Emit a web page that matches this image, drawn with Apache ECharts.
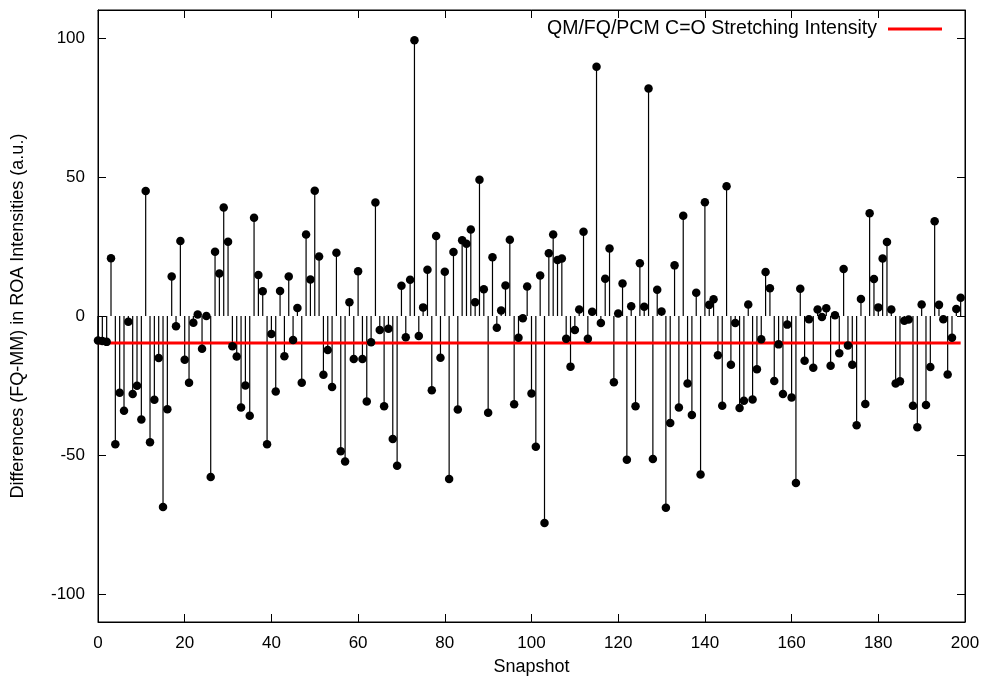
<!DOCTYPE html>
<html>
<head>
<meta charset="utf-8">
<script src="https://cdn.jsdelivr.net/npm/echarts@6/dist/echarts.min.js"></script>
<style>html,body{margin:0;padding:0;background:#fff}#c{width:985px;height:681px}</style>
</head>
<body>
<div id="c"></div>
<script>
// Differences (FQ-MM) for snapshots 0..199
const differences = [
 -8.8, -9.0, -9.3, 20.8, -46.1, -27.6, -34.1, -2.1, -28.0, -25.1,
 -37.2, 44.9, -45.4, -30.1, -15.1, -68.7, -33.5, 14.2, -3.7, 27.0,
 -15.7, -24.0, -2.4, 0.5, -11.8, 0.0, -57.9, 23.1, 15.3, 39.0,
 26.7, -10.9, -14.6, -32.9, -25.0, -35.9, 35.3, 14.7, 8.9, -46.1,
 -6.5, -27.1, 9.0, -14.5, 14.2, -8.6, 2.9, -24.0, 29.3, 13.1,
 45.0, 21.4, -21.1, -12.2, -25.5, 22.7, -48.6, -52.3, 4.9, -15.5,
 16.1, -15.5, -30.7, -9.4, 40.8, -5.0, -32.4, -4.6, -44.2, -53.8,
 10.9, -7.6, 13.0, 99.1, -7.2, 3.1, 16.6, -26.7, 28.8, -15.0,
 15.9, -58.6, 23.0, -33.6, 27.2, 26.0, 31.1, 4.9, 49.0, 9.6,
 -34.8, 21.1, -4.2, 2.0, 11.0, 27.4, -31.7, -7.8, -0.8, 10.6,
 -27.9, -47.0, 14.6, -74.4, 22.6, 29.3, 20.1, 20.7, -8.2, -18.2,
 -5.0, 2.3, 30.3, -8.2, 1.5, 89.6, -2.5, 13.4, 24.3, -23.8,
 0.9, 11.7, -51.7, 3.5, -32.4, 19.0, 3.3, 81.8, -51.4, 9.4,
 1.6, -68.9, -38.5, 18.2, -32.9, 36.0, -24.3, -35.6, 8.4, -57.0,
 40.9, 4.0, 6.0, -14.1, -32.3, 46.6, -17.5, -2.5, -33.1, -30.5,
 4.1, -30.0, -19.1, -8.4, 15.8, 10.0, -23.4, -10.2, -28.0, -3.1,
 -29.3, -60.0, 9.8, -16.1, -1.2, -18.6, 2.3, -0.4, 2.8, -17.9,
 0.3, -13.4, 16.9, -10.6, -17.5, -39.3, 6.1, -31.6, 36.9, 13.3,
 3.1, 20.7, 26.6, 2.3, -24.3, -23.5, -1.7, -1.3, -32.3, -40.0,
 4.1, -32.0, -18.3, 34.1, 4.0, -1.2, -21.0, -7.8, 2.5, 6.6
];
const stretchingIntensity = -9.7;
const stretchRange = [0, 199];
const yTicks = [-100, -50, 0, 50, 100];
const legendName = 'QM/FQ/PCM C=O Stretching Intensity';

const points = differences.map((v, i) => [i, v]);
const font = 'Liberation Sans, Arial, Helvetica, sans-serif';
const fs = 18;
const tfs = 17;

const chart = echarts.init(document.getElementById('c'), null, {renderer: 'canvas'});
const tickStyle = {inside: true, length: 8, lineStyle: {color: '#000', width: 1}};
const lineStyle = {show: true, onZero: false, lineStyle: {color: '#000', width: 1}};
chart.setOption({
  animation: false,
  backgroundColor: '#fff',
  textStyle: {fontFamily: font},
  grid: {left: 98, right: 20, top: 10, bottom: 58, show: true, borderColor: '#000', borderWidth: 1, backgroundColor: 'transparent'},
  legend: {
    data: [{name: legendName, icon: 'rect'}], right: 38, top: 14, align: 'right',
    itemWidth: 54, itemHeight: 3, itemGap: 0,
    textStyle: {fontSize: 19.5, color: '#000', fontFamily: font, padding: [0, 6, 0, 0]}
  },
  xAxis: [{
    type: 'value', min: 0, max: 200, interval: 20,
    name: 'Snapshot', nameLocation: 'middle', nameGap: 36,
    nameTextStyle: {fontSize: fs, color: '#000', fontFamily: font},
    axisLine: lineStyle,
    axisTick: tickStyle,
    axisLabel: {fontSize: tfs, color: '#000', margin: 13, fontFamily: font},
    splitLine: {show: false}
  }, {
    type: 'value', min: 0, max: 200, interval: 20, position: 'top',
    axisLine: lineStyle,
    axisTick: tickStyle, axisLabel: {show: false}, splitLine: {show: false}
  }],
  yAxis: [{
    type: 'value', min: -110, max: 110,
    name: 'Differences (FQ-MM) in ROA Intensities (a.u.)', nameLocation: 'middle', nameGap: 71,
    nameTextStyle: {fontSize: fs, color: '#000', fontFamily: font},
    axisLine: lineStyle,
    axisTick: Object.assign({customValues: yTicks}, tickStyle),
    axisLabel: {customValues: yTicks, fontSize: tfs, color: '#000', margin: 13, fontFamily: font},
    splitLine: {show: false}
  }, {
    type: 'value', min: -110, max: 110, position: 'right',
    axisLine: lineStyle,
    axisTick: Object.assign({customValues: yTicks}, tickStyle),
    axisLabel: {show: false}, splitLine: {show: false}
  }],
  series: [{
    type: 'custom', name: 'stems', z: 1,
    renderItem: function (params, api) {
      const x = api.value(0), y = api.value(1);
      const p0 = api.coord([x, 0]);
      const p1 = api.coord([x, y]);
      return {type: 'line', shape: {x1: p0[0], y1: p0[1], x2: p1[0], y2: p1[1]},
              style: {stroke: '#000', lineWidth: 1.2}};
    },
    data: points, silent: true
  }, {
    type: 'line', name: legendName, z: 2,
    data: [[stretchRange[0], stretchingIntensity], [stretchRange[1], stretchingIntensity]],
    symbol: 'none', lineStyle: {color: '#ff0000', width: 3}, itemStyle: {color: '#ff0000'}
  }, {
    type: 'scatter', name: 'points', z: 3,
    data: points, symbol: 'circle', symbolSize: 8.5,
    itemStyle: {color: '#000', opacity: 1}
  }]
});
</script>
</body>
</html>
